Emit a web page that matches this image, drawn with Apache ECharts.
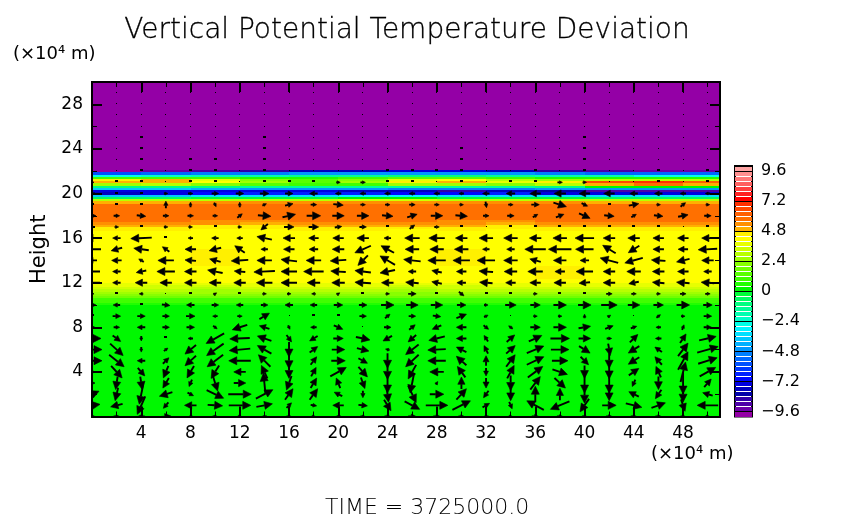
<!DOCTYPE html>
<html>
<head>
<meta charset="utf-8">
<style>html,body{margin:0;padding:0;background:#fff}#main{width:854px;height:519px}</style>
<script src="https://cdn.jsdelivr.net/npm/echarts@6/dist/echarts.min.js"></script>
</head>
<body>
<div id="main"></div>
<script>
var xTicks = [4, 8, 12, 16, 20, 24, 28, 32, 36, 40, 44, 48];
var xMinor = [2, 6, 10, 14, 18, 22, 26, 30, 34, 38, 42, 46, 50];
var yTicks = [4, 8, 12, 16, 20, 24, 28];
var yMinor = [2, 6, 10, 14, 18, 22, 26];
var barTicks = [-9.6, -7.2, -4.8, -2.4, 0, 2.4, 4.8, 7.2, 9.6];

// shading levels, -10 to 10, one colour per 0.4
var barColors = ['#9400a6', '#6a00a8', '#4c00a8', '#3000a8', '#0000a8', '#0000c0', '#0000e0',
    '#0008ff', '#0020ff', '#0038ff', '#0050ff', '#0068ff', '#0080ff',
    '#0098ff', '#00b0ff', '#00c8ff', '#00e0ff', '#00f4ff', '#00ffe8',
    '#00ffc8', '#00ffb0', '#00ff98', '#00ff80', '#00ff60', '#00ff38',
    '#00f800', '#20ff00', '#40ff00', '#58ff00', '#70ff00', '#88ff00',
    '#a0ff00', '#b8ff00', '#d0ff00', '#e8ff00', '#ffff00', '#fff000',
    '#ffb000', '#ff9000', '#ff7000', '#ff6000', '#ff4800', '#ff3000',
    '#ff0000', '#ff2020', '#ff4040', '#ff6060', '#ff7878', '#ff9090', '#ffa4a4'];

// field: x stations, height bands (top to bottom), deviation per band
var fieldX = [0, 4, 8, 12, 16, 20, 24, 28, 32, 36, 40, 44, 48, 51];
var fieldY = [30, 22.1, 21.9, 21.7, 21.5, 21.3, 21.1, 20.9, 20.7, 20.5, 20.3, 20.1, 19.9, 19.7, 19.5, 19.3, 19.1,
    17.6, 17.4, 17.2, 17.0, 16.8, 16.6, 15, 13.5, 12.3, 12.0, 11.8, 11.6, 11.4, 11.2, 11, 10.8, 10.6, 10.4, 10.2, 10, 0];
var fieldZ = [
    [-10, -10, -10, -10, -10, -10, -10, -10, -10, -10, -10, -10, -10],
    [-10, -9.5, -9, -8.5, -8, -8, -7.5, -7.5, -8, -8.5, -9, -9.5, -9.5],
    [-6, -5.5, -5, -5, -4.8, -4.4, -4.4, -4.4, -4.6, -5, -5.2, -5.6, -5.6],
    [-2.4, -2.2, -2, -1.8, -1.6, -1.4, -1.2, -1.2, -1.4, -1.8, -2, -2.4, -2.4],
    [1, 1.2, 1, 0.6, 0.6, 0.8, 1.4, 1.6, 1, 0.6, 0.4, 0.4, 0.4],
    [4.4, 4.8, 3.8, 2.2, 1.6, 2, 3.6, 4.2, 3.2, 2.6, 3, 3.2, 3],
    [4.8, 5.2, 4.2, 2.4, 1.6, 2.6, 4.6, 4.9, 3.8, 4.4, 6.6, 7.2, 6.2],
    [2.6, 2.8, 2.2, 1.4, 0.8, 1.2, 2.4, 2.6, 2, 3.2, 5.2, 5.6, 5],
    [-1, -1, -1.2, -1.4, -1.6, -1.6, -1.4, -1.4, -1.6, -1, 0.1, 0.2, 0.1],
    [-4, -4, -4.2, -4.4, -4.6, -4.8, -5, -5, -5, -4.6, -4.4, -4.4, -4.4],
    [-7.6, -7.6, -7.2, -7.2, -7.4, -7.8, -8, -8.4, -8, -8.2, -8.8, -9.2, -8.8],
    [-8, -7.6, -7, -6.8, -6.8, -6.8, -7, -7, -6.8, -7.2, -7.6, -7.6, -7.4],
    [-4, -3.8, -3.4, -3.4, -3.4, -3.2, -3.2, -3.4, -3.4, -3.4, -3.6, -3.6, -3.6],
    [-0.6, -0.6, -0.2, -0.2, -0.2, 0.1, 0.1, -0.2, -0.2, -0.2, -0.4, -0.4, -0.4],
    [3, 3, 3.2, 3.2, 3.2, 3.4, 3.4, 3.2, 3.2, 3.2, 3, 3, 3],
    [5.2, 5.2, 5.4, 5.4, 5.4, 5.4, 5.4, 5.4, 5.4, 5.4, 5.2, 5.2, 5.2],
    [5.9, 5.9, 5.9, 5.9, 5.9, 5.9, 5.9, 5.9, 5.9, 5.9, 5.9, 5.9, 5.9],
    [5.9, 5.9, 5.5, 5.5, 5.9, 5.9, 5.9, 5.5, 5.5, 5.9, 5.9, 5.9, 5.9],
    [5.4, 5.4, 5.4, 5.1, 5.4, 5.4, 5.4, 5.4, 5.1, 5.4, 5.4, 5.4, 5.4],
    [5, 5, 4.7, 4.7, 5, 5, 5, 5, 4.7, 5, 5, 5, 5],
    [4.7, 4.7, 4.5, 4.5, 4.7, 4.7, 4.5, 4.7, 4.5, 4.7, 4.7, 4.7, 4.7],
    [4.5, 4.5, 4.2, 4.2, 4.5, 4.5, 4.2, 4.5, 4.2, 4.5, 4.5, 4.5, 4.5],
    [4.2, 4.2, 4.2, 4.2, 4.2, 4.2, 4.2, 4.2, 4.2, 4.2, 4.2, 4.2, 4.2],
    [4.2, 4.2, 4.5, 4.2, 4.2, 4.2, 4.2, 4.5, 4.2, 4.2, 4.2, 4.2, 4.2],
    [4.2, 4.2, 4.2, 4.2, 4.2, 4.2, 4.2, 4.2, 4.2, 4.5, 4.2, 4.2, 4.2],
    [4.1, 4.1, 4.1, 4.1, 4.1, 4.1, 4.1, 4.1, 4.1, 4.1, 4.1, 4.1, 4.1],
    [3.8, 3.8, 3.8, 3.8, 3.8, 3.8, 3.8, 3.8, 3.8, 3.8, 3.8, 3.8, 3.8],
    [3.8, 3.4, 3.4, 3.8, 3.8, 3.8, 3.4, 3.4, 3.8, 3.8, 3.8, 3.8, 3.8],
    [3.4, 3.4, 3, 3.4, 3.4, 3.4, 3, 3.4, 3.4, 3.4, 3.4, 3.4, 3.4],
    [3, 3, 2.6, 3, 3, 3, 2.6, 3, 3, 3, 3, 3, 3],
    [2.6, 2.6, 2.6, 2.6, 2.6, 2.6, 2.2, 2.6, 2.6, 2.6, 2.6, 2.6, 2.6],
    [2.2, 2.2, 2.2, 2.2, 2.2, 2.2, 2.2, 2.2, 2.2, 2.2, 2.2, 2.2, 2.2],
    [1.8, 1.8, 1.8, 1.8, 1.8, 1.8, 1.8, 1.8, 1.8, 1.8, 1.8, 1.8, 1.8],
    [1.2, 1.2, 1.2, 1.2, 1.2, 1.2, 1.2, 1.2, 1.2, 1.2, 1.2, 1.2, 1.2],
    [0.8, 0.8, 0.8, 0.8, 0.8, 0.8, 0.8, 0.8, 0.8, 0.8, 0.8, 0.8, 0.8],
    [0.4, 0.4, 0.4, 0.4, 0.4, 0.4, 0.4, 0.4, 0.4, 0.4, 0.4, 0.4, 0.4],
    [0.2, 0.2, 0.2, 0.2, 0.2, 0.2, 0.2, 0.2, 0.2, 0.2, 0.2, 0.2, 0.2]
];

// wind vectors: one row per height 0..29, one value per column x = 0,2,..,50
var windX = [0, 2, 4, 6, 8, 10, 12, 14, 16, 18, 20, 22, 24, 26, 28, 30, 32, 34, 36, 38, 40, 42, 44, 46, 48, 50];
var windY = [0, 1, 2, 3, 4, 5, 6, 7, 8, 9, 10, 11, 12, 13, 14, 15, 16, 17, 18, 19, 20, 21, 22, 23, 24, 25, 26, 27, 28, 29];
var uRows = [
    [6, 6, -7, 10, -4, 5, 4, -5, 5, 4, -5, 5, 6, 8, 7, 6, -5, 4, 7, 6, 5, 6, 6, 6, 5, 4],
    [16, -12, -8, -5, -12, 15, 22, 16, 5, 6, -11, 9, 7, 15, 22, 18, 7, 3, -17, -19, -9, 14, 16, 14, 4, -21],
    [14, -3, -4, -13, 6, 17, 23, 17, 8, 8, -8, 0, 2, 8, 14, 10, -5, 0, 0, 0, 0, 0, -10, -6, 0, -10],
    [6, -2, 2, -6, -3, 5, 12, -2, -5, 6, -4, 4, 0, -4, 2, 0, 0, 0, 10, 11, 0, 0, -3, 0, 0, 7],
    [6, 11, 7, -5, -7, -8, -12, -6, 0, 5, 16, 9, 0, -8, -14, -8, 0, 7, 15, 15, 0, 0, 10, -5, 5, 16],
    [20, 15, -8, 6, -11, -16, -22, -12, 0, 6, 14, 9, 0, -13, -18, -10, 0, 9, 17, 16, 8, 0, -11, -7, 10, 19],
    [20, 13, 0, 4, -11, -17, -21, -14, 0, 8, 13, 12, -4, -13, -18, -10, -4, 9, 17, 18, 11, 2, -11, -7, 10, 21],
    [18, 8, 0, -3, -5, -18, -20, -14, 5, -8, 10, 14, -9, -8, -16, -10, -4, 8, 13, 19, 12, 5, 8, -6, 6, 17],
    [6, 6, -8, 7, 8, 4, -15, -10, 2, -6, 9, 1, 7, 6, -9, -10, 5, -4, 10, 13, 12, 8, 6, -5, 2, 8],
    [3, 8, 8, 7, 9, -5, 5, 10, 1, 3, 3, 7, 5, 7, 8, 10, 4, 1, 4, 4, 0, 3, 1, 4, 4, 8],
    [8, -7, 0, 8, -8, 7, -7, 7, -8, -7, 9, 8, 13, 12, 12, 9, 4, 11, 10, 13, 13, 16, 12, 10, 13, 9],
    [4, -3, -4, 1, 3, 3, 3, 4, 4, -4, 3, 3, 4, 8, 2, 5, 2, 3, 4, 3, 3, 6, 5, 4, 6, 5],
    [-16, -8, -12, -12, -12, -12, -12, -16, -16, -13, -13, -16, -12, -13, -10, -9, -13, -10, -11, -12, -11, -12, -10, -12, -13, -13],
    [-16, -8, -10, -18, -12, -15, -11, -21, -16, -20, -15, -16, -15, -8, -10, -10, -14, -13, -15, -10, -17, -12, -14, -12, -11, -8],
    [-10, -10, -5, -16, -11, -11, -17, -15, -16, -15, -16, -10, -15, -17, -18, -17, -18, -14, -11, -13, -9, -18, -18, -14, -13, -12],
    [-18, -11, -15, -7, -11, -12, -10, -7, -11, -9, -12, -16, -13, -14, -14, -14, -7, -8, -21, -23, -18, -13, -11, -11, -10, -19],
    [-14, -8, -21, -2, -5, -7, -6, -15, -12, -10, -11, -12, -7, -15, -16, -12, -14, -14, -12, -14, -19, -12, -12, -11, -11, -12],
    [-6, 4, 3, 4, 4, 2, 4, -7, 10, 10, 7, 7, 3, 5, 5, 3, 1, 2, 3, 0, 3, 3, 3, 3, 1, 3],
    [8, 6, 9, 6, 6, 5, 5, 13, 13, 14, 12, 12, 11, 10, 12, 12, 6, 7, 5, 8, 11, 10, 5, 9, 10, 7],
    [2, 1, 2, 0, 0, 2, 0, 4, 8, 6, 10, 5, 5, 6, 5, 4, 1, 5, 8, 13, 6, 3, 10, 4, 5, 4],
    [-6, 2, 3, 4, 5, 7, 8, 9, 8, -8, -6, -6, -6, -6, -6, -5, -7, -9, -11, -12, -11, -11, -8, -8, -6, -5],
    [4, 3, 2, 1, 2, 2, 1, 2, 2, 3, 4, 5, 3, 3, 1, 2, 1, 2, 3, 5, 4, 1, 1, 2, 1, 2],
    [1, 1, 3, 1, 3, 3, 1, 3, 1, 1, 1, 1, 3, 3, 3, 3, 1, 1, 3, 1, 3, 1, 1, 3, 1, 3],
    [1, 1, 3, 1, 3, 3, 1, 3, 1, 1, 1, 1, 1, 1, 1, 3, 1, 1, 1, 1, 3, 1, 1, 1, 1, 1],
    [1, 1, 3, 1, 1, 1, 1, 3, 1, 1, 1, 1, 1, 1, 1, 3, 1, 1, 1, 1, 3, 1, 1, 1, 1, 1],
    [1, 1, 3, 1, 1, 1, 1, 3, 1, 1, 1, 1, 1, 1, 1, 1, 1, 1, 1, 1, 3, 1, 1, 1, 1, 1],
    [1, 1, 1, 1, 1, 1, 1, 1, 1, 1, 1, 1, 1, 1, 1, 1, 1, 1, 1, 1, 1, 1, 1, 1, 1, 1],
    [1, 1, 1, 1, 1, 1, 1, 1, 1, 1, 1, 1, 1, 1, 1, 1, 1, 1, 1, 1, 1, 1, 1, 1, 1, 1],
    [1, 1, 1, 1, 1, 1, 1, 1, 1, 1, 1, 1, 1, 1, 1, 1, 1, 1, 1, 1, 1, 1, 1, 1, 1, 1],
    [1, 1, 1, 1, 1, 1, 1, 1, 1, 1, 1, 1, 1, 1, 1, 1, 1, 1, 1, 1, 1, 1, 1, 1, 1, 1]
];
var vRows = [
    [0, 0, 0, 1, 0, 0, 0, 0, 0, 0, 0, 0, 0, 0, 0, 0, 0, 0, 0, 0, 0, 0, 0, 0, 0, 0],
    [2, -3, -18, -6, 0, -1, 0, 3, 5, -1, 0, -1, -11, -8, 0, 9, 4, -7, 9, -8, -13, 0, -4, 5, -12, 0],
    [6, -13, -20, -4, -3, -8, 0, 9, 11, 11, 4, -7, -16, -17, 0, 11, -7, -13, 16, 12, -18, -13, 5, -9, -16, 3],
    [0, -13, -13, -10, -7, -16, 0, 20, -14, 10, 10, -11, -20, -20, 3, 12, -10, -15, 13, -10, -20, -20, -7, -13, -22, 8],
    [0, -12, -8, -12, -12, -13, 0, 13, -13, 9, 9, -10, -15, -14, 0, 11, -8, 13, 11, -5, -13, -14, 7, 11, 20, 9],
    [0, -12, 0, 6, -10, -12, 0, 12, -16, 8, 0, -5, -15, -12, 0, 9, 10, 12, 8, 0, -8, -15, -7, 8, 18, 6],
    [0, -12, -5, 3, -9, -12, -2, 8, -15, 6, 0, -3, 1, -10, -1, 5, 8, 8, 7, 0, -7, -12, -7, 5, 13, 6],
    [0, -6, -5, 0, 0, -10, -1, 5, -7, -5, 0, -3, -5, -7, -4, 0, 6, 7, 6, 0, 0, 0, 8, 0, 9, 4],
    [0, 0, 0, 0, 0, -3, -5, 3, -4, 0, -4, 0, 0, 5, -4, 0, -4, 3, 0, 0, 2, 3, 2, 0, 5, 0],
    [0, 0, 0, 0, 0, 0, 0, 6, 0, 0, 0, 0, 4, 0, -1, 4, 2, 0, 0, 0, 4, 2, 0, 3, 0, 0],
    [0, 0, 3, -1, 0, 0, 0, 0, 0, 0, 0, 0, 0, 0, 0, 0, 0, 0, 0, 0, 0, 0, 0, 0, 0, 0],
    [0, 0, 0, 0, 0, 2, 0, 0, 0, 0, 2, 0, 0, 0, 0, -4, 0, 0, 0, 0, 0, 0, 0, 0, 0, 0],
    [0, 0, 0, 0, 0, 0, 0, 0, 0, 0, 0, 1, 0, 1, 2, 0, 1, 0, 0, 0, -1, 0, -2, 1, 1, 1],
    [0, 0, -2, 0, 0, 3, 1, -1, 0, 0, 1, 2, -3, 0, 2, 0, 1, 0, 0, 0, 0, 0, 0, 0, 0, 0],
    [0, 0, 3, 0, 1, 3, -1, 0, 2, 0, -1, -10, 9, 2, 0, 0, 0, 0, 3, 0, 0, 5, -5, 1, -3, 0],
    [0, -3, 2, 5, 0, -3, 7, 0, 0, 0, 0, -7, 7, 0, 0, 0, 0, 0, 0, 0, 0, 8, -7, 0, 0, -1],
    [0, 0, -1, -2, 0, 0, 0, 3, 0, 0, 0, 0, 0, 0, 0, 0, 0, 0, 0, 0, 0, 0, 0, 0, 0, 0],
    [0, 0, 0, 0, 0, 0, 0, -6, 0, 0, 1, 0, 0, 4, 0, 1, 0, 0, 0, 2, 0, 0, 1, 0, 0, 0],
    [0, 0, -1, 0, 0, 0, 4, -1, 3, 0, 0, 0, -1, 3, 0, -1, 0, 0, 3, 3, -5, -1, 3, -1, 2, 0],
    [0, 3, 2, 7, 5, -4, 5, 2, 2, 0, -1, 0, 0, 0, 0, 0, -6, 0, 0, -4, -3, 1, 2, 0, 4, 0],
    [0, 0, 0, 0, 0, 0, 0, 0, 0, 0, 0, 0, 0, 0, 0, 0, 0, 0, 0, 0, 0, 0, 0, 0, 0, 0],
    [0, 0, 0, 0, 0, 0, 0, 0, 0, 0, 0, 0, 0, 0, 0, 0, 0, 0, 0, 0, 0, 0, 0, 0, 0, 0],
    [0, 0, 0, 0, 0, 0, 0, 0, 0, 0, 0, 0, 0, 0, 0, 0, 0, 0, 0, 0, 0, 0, 0, 0, 0, 0],
    [0, 0, 0, 0, 0, 0, 0, 0, 0, 0, 0, 0, 0, 0, 0, 0, 0, 0, 0, 0, 0, 0, 0, 0, 0, 0],
    [0, 0, 0, 0, 0, 0, 0, 0, 0, 0, 0, 0, 0, 0, 0, 0, 0, 0, 0, 0, 0, 0, 0, 0, 0, 0],
    [0, 0, 0, 0, 0, 0, 0, 0, 0, 0, 0, 0, 0, 0, 0, 0, 0, 0, 0, 0, 0, 0, 0, 0, 0, 0],
    [0, 0, 0, 0, 0, 0, 0, 0, 0, 0, 0, 0, 0, 0, 0, 0, 0, 0, 0, 0, 0, 0, 0, 0, 0, 0],
    [0, 0, 0, 0, 0, 0, 0, 0, 0, 0, 0, 0, 0, 0, 0, 0, 0, 0, 0, 0, 0, 0, 0, 0, 0, 0],
    [0, 0, 0, 0, 0, 0, 0, 0, 0, 0, 0, 0, 0, 0, 0, 0, 0, 0, 0, 0, 0, 0, 0, 0, 0, 0],
    [0, 0, 0, 0, 0, 0, 0, 0, 0, 0, 0, 0, 0, 0, 0, 0, 0, 0, 0, 0, 0, 0, 0, 0, 0, 0]
];

var titleText = 'Vertical Potential Temperature Deviation';
var timeText = 'TIME = 3725000.0';
var unitText = '(×10⁴ m)';
var fontName = 'DejaVu Sans';

var myChart = echarts.init(document.getElementById('main'), null, { renderer: 'canvas' });

function levelColor(val) {
    var i = Math.floor((val + 10) / 0.4);
    return barColors[Math.max(0, Math.min(barColors.length - 1, i))];
}

// build cells and vectors from the tables above
var cells = [];
for (var r = 0; r < fieldZ.length; r++) {
    for (var c = 0; c < fieldX.length - 1; c++) {
        cells.push([fieldX[c], fieldX[c + 1], fieldY[r + 1], fieldY[r], fieldZ[r][c]]);
    }
}
var vectors = [];
for (var j = 0; j < windY.length; j++) {
    for (var i = 0; i < windX.length; i++) {
        vectors.push([windX[i], windY[j], uRows[j][i], vRows[j][i]]);
    }
}
var barCells = barColors.map(function (col, k) {
    return [0, 1, -10 + k * 0.4, -10 + (k + 1) * 0.4, k];
});

function renderCell(params, api) {
    var a = api.coord([api.value(0), api.value(3)]);
    var b = api.coord([api.value(1), api.value(2)]);
    // whole pixels so neighbouring cells leave no seam
    var x0 = Math.round(a[0]), y0 = Math.round(a[1]);
    return {
        type: 'rect',
        shape: { x: x0, y: y0, width: Math.round(b[0]) - x0, height: Math.round(b[1]) - y0 },
        style: { fill: levelColor(api.value(4)) }
    };
}

function renderVector(params, api) {
    var p = api.coord([api.value(0), api.value(1)]);
    var u = api.value(2), v = api.value(3);
    var len = Math.sqrt(u * u + v * v);
    // very short vectors are only a speck
    if (len <= 3.5) {
        var w = len <= 1.5 ? 1 : 3, h = len <= 1.5 ? 1 : 2;
        return { type: 'rect', shape: { x: Math.round(p[0] - w / 2), y: Math.round(p[1]) - h, width: w, height: h }, style: { fill: '#000' } };
    }
    var ux = u / len, uy = -v / len;
    var tip = [p[0] + u / 2, p[1] - v / 2];
    var tail = [p[0] - u / 2, p[1] + v / 2];
    var headLen = Math.min(8, Math.max(3, len * 0.6));
    var headW = headLen * 0.5;
    var base = [tip[0] - ux * headLen, tip[1] - uy * headLen];
    return {
        type: 'group',
        children: [{
            type: 'line',
            shape: { x1: tail[0], y1: tail[1], x2: base[0], y2: base[1] },
            style: { stroke: '#000', lineWidth: 1.9 }
        }, {
            type: 'polygon',
            shape: { points: [tip, [base[0] - uy * headW, base[1] + ux * headW], [base[0] + uy * headW, base[1] - ux * headW]] },
            style: { fill: '#000', stroke: '#000', lineWidth: 0.6 }
        }]
    };
}

function renderBar(params, api) {
    var a = api.coord([api.value(0), api.value(3)]);
    var b = api.coord([api.value(1), api.value(2)]);
    var y0 = Math.round(a[1]);
    return {
        type: 'rect',
        shape: { x: a[0], y: y0 + 1, width: b[0] - a[0], height: Math.round(b[1]) - y0 - 1 },
        style: { fill: barColors[api.value(4)] }
    };
}

// one axis per side and per tick length
function plotAxis(kind, position, ticks, len, labels) {
    var axis = {
        type: 'value',
        gridIndex: 0,
        position: position,
        min: 0,
        max: kind === 'x' ? 51 : 30,
        z: 6,
        splitLine: { show: false },
        axisLine: { show: true, onZero: false, lineStyle: { color: '#000', width: 2 } },
        axisTick: { show: true, inside: true, length: len, customValues: ticks, lineStyle: { color: '#000', width: len > 6 ? 2 : 1 } },
        axisLabel: { show: labels, customValues: ticks, color: '#000', fontFamily: fontName, fontSize: 17, margin: 9 }
    };
    return axis;
}

var heightAxis = plotAxis('y', 'left', yTicks, 10, true);
heightAxis.name = 'Height';
heightAxis.nameLocation = 'middle';
heightAxis.nameGap = 41;
heightAxis.nameTextStyle = { color: '#000', fontFamily: fontName, fontSize: 21 };

var option = {
    animation: false,
    title: {
        text: titleText,
        left: 402,
        top: 12,
        textAlign: 'center',
        textStyle: { color: '#000', fontFamily: fontName, fontWeight: 200, fontSize: 28, textBorderColor: '#000', textBorderWidth: 0.3 }
    },
    grid: [
        { left: 92, top: 82, width: 628, height: 334.5 },
        { left: 735, top: 166, width: 17, height: 250.5, show: true, borderColor: '#000', borderWidth: 2, backgroundColor: '#fff', z: 1 }
    ],
    xAxis: [
        plotAxis('x', 'bottom', xTicks, 10, true),
        plotAxis('x', 'top', xTicks, 10, false),
        plotAxis('x', 'bottom', xMinor, 5, false),
        plotAxis('x', 'top', xMinor, 5, false),
        { type: 'value', gridIndex: 1, min: 0, max: 1, show: false }
    ],
    yAxis: [
        heightAxis,
        plotAxis('y', 'right', yTicks, 10, false),
        plotAxis('y', 'left', yMinor, 5, false),
        plotAxis('y', 'right', yMinor, 5, false),
        {
            type: 'value',
            gridIndex: 1,
            position: 'right',
            min: -10,
            max: 10,
            z: 6,
            axisLine: { show: false },
            axisTick: { show: true, length: 0, customValues: barTicks },
            splitLine: { show: true, lineStyle: { color: '#000', width: 1 } },
            axisLabel: {
                customValues: barTicks,
                color: '#000',
                fontFamily: fontName,
                fontSize: 16,
                margin: 9,
                formatter: function (val) {
                    return String(val).replace('-', '\u2212');
                }
            }
        }
    ],
    graphic: [
        { type: 'text', left: 13, top: 45, style: { text: unitText, fill: '#000', font: '18px "DejaVu Sans"' } },
        { type: 'text', left: 651, top: 445, style: { text: unitText, fill: '#000', font: '18px "DejaVu Sans"' } },
        { type: 'text', left: 325, top: 497, style: { text: timeText, fill: '#000', font: '200 22px "DejaVu Sans"' } }
    ],
    series: [
        {
            type: 'custom',
            xAxisIndex: 0,
            yAxisIndex: 0,
            clip: true,
            silent: true,
            renderItem: renderCell,
            encode: { x: [0, 1], y: [2, 3] },
            data: cells
        },
        {
            type: 'custom',
            xAxisIndex: 0,
            yAxisIndex: 0,
            clip: true,
            silent: true,
            z: 3,
            renderItem: renderVector,
            encode: { x: 0, y: 1 },
            data: vectors
        },
        {
            type: 'custom',
            xAxisIndex: 4,
            yAxisIndex: 4,
            silent: true,
            renderItem: renderBar,
            encode: { x: [0, 1], y: [2, 3] },
            data: barCells
        }
    ]
};
myChart.setOption(option);
</script>
</body>
</html>
